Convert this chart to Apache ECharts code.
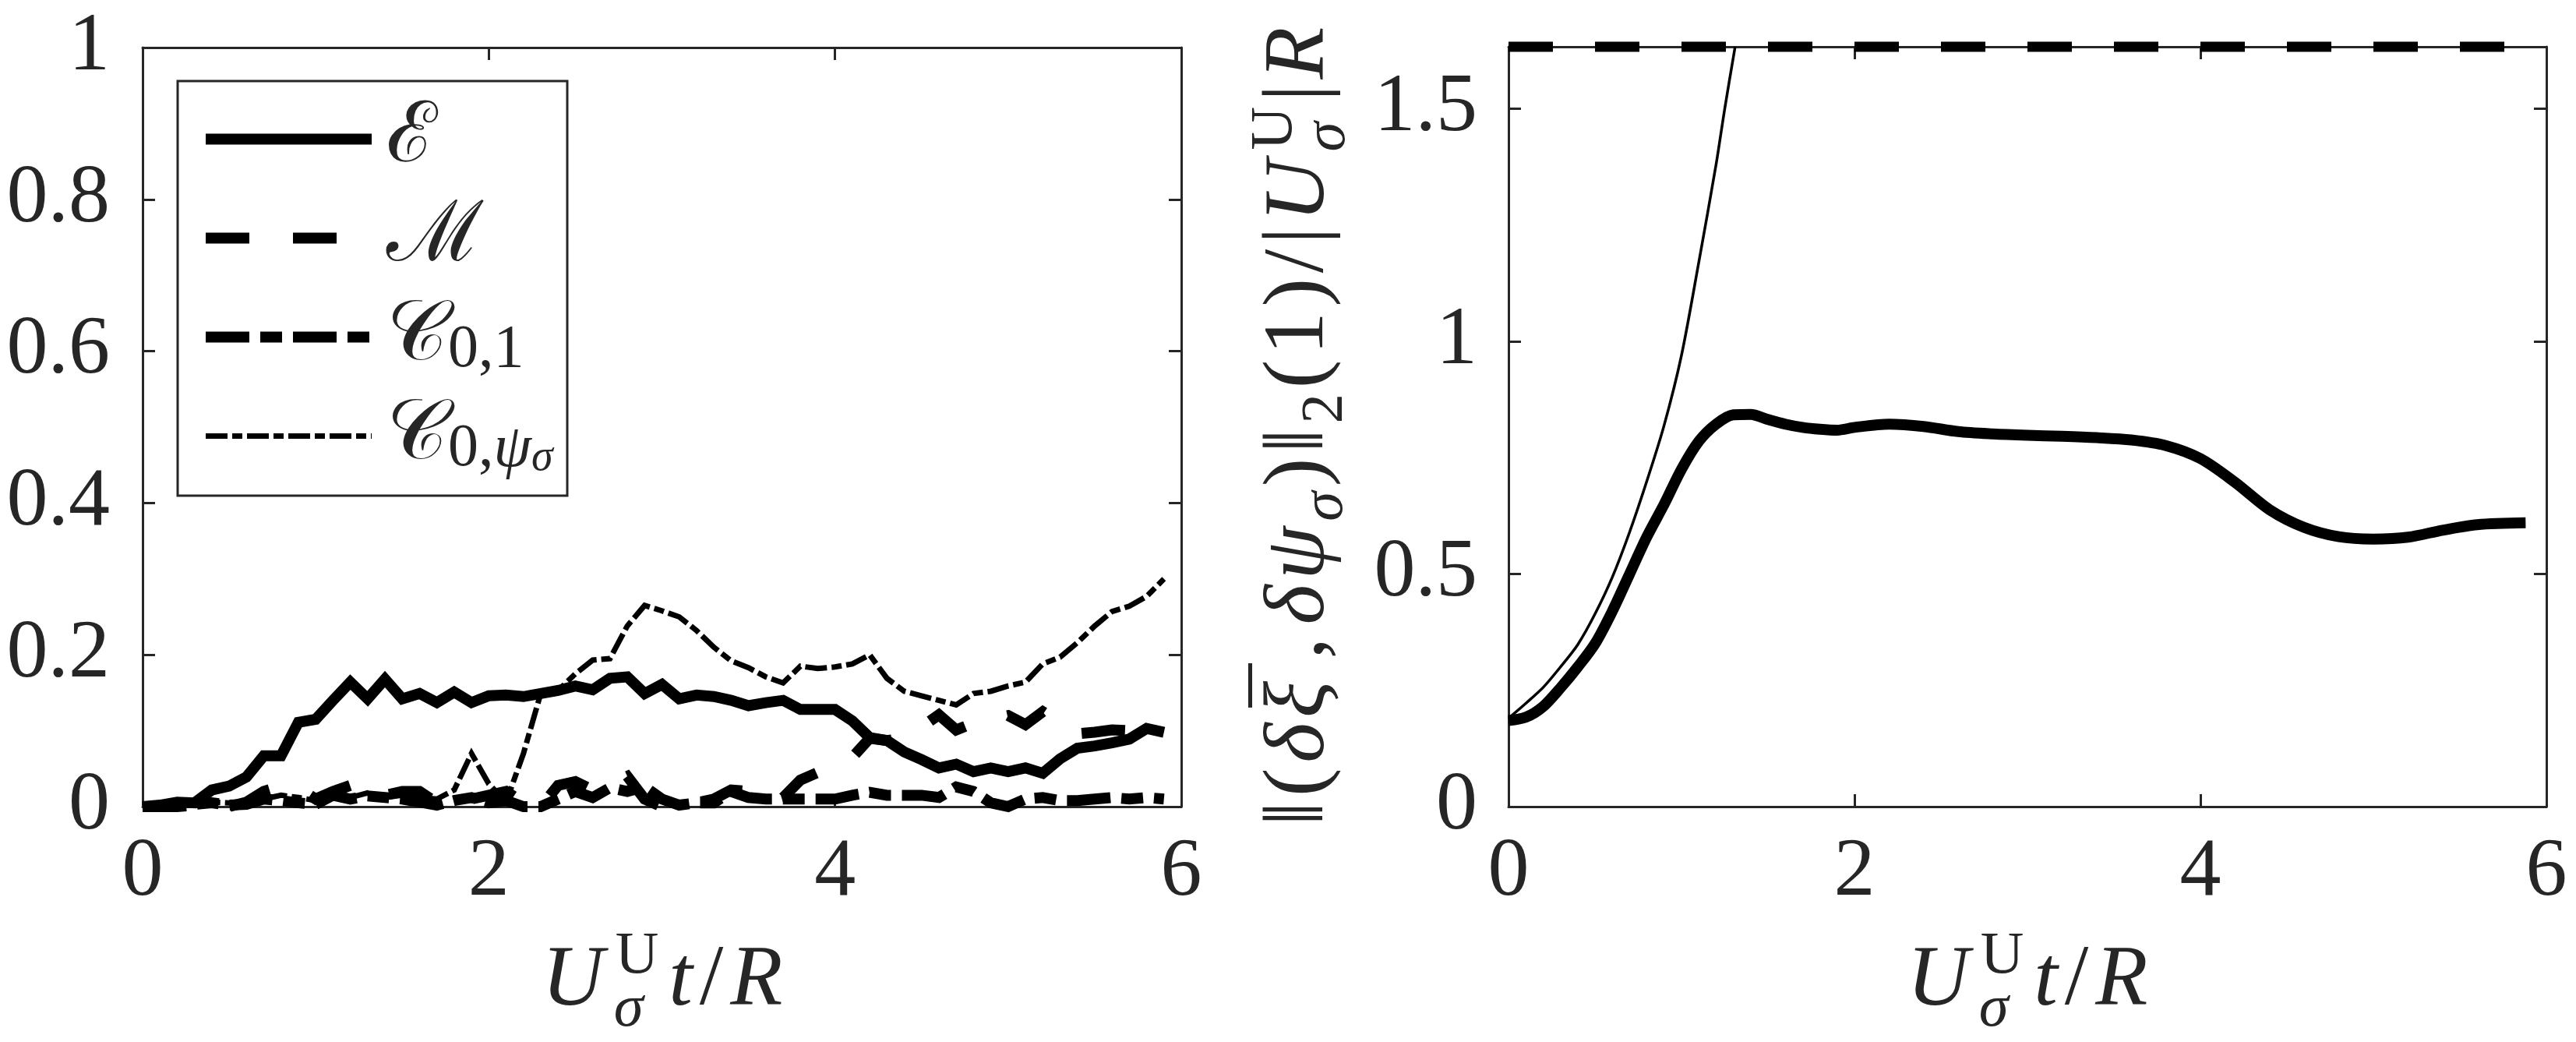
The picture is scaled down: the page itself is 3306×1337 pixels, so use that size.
<!DOCTYPE html>
<html>
<head>
<meta charset="utf-8">
<script src="https://cdn.jsdelivr.net/npm/echarts@6/dist/echarts.min.js"></script>
<style>
html,body{margin:0;padding:0;background:#fff;}
#c{width:3306px;height:1337px;}
</style>
</head>
<body>
<div id="c"></div>
<script>
// ---------------- data ----------------
const T = [0,0.1,0.2,0.3,0.4,0.5,0.6,0.7,0.8,0.9,
           1.0,1.1,1.2,1.3,1.4,1.5,1.6,1.7,1.8,1.9,
           2.0,2.1,2.2,2.3,2.4,2.5,2.6,2.7,2.8,2.9,
           3.0,3.1,3.2,3.3,3.4,3.5,3.6,3.7,3.8,3.9,
           4.0,4.1,4.2,4.3,4.4,4.5,4.6,4.7,4.8,4.9,
           5.0,5.1,5.2,5.3,5.4,5.5,5.6,5.7,5.8,5.9];
const E_VAL = [0,0.002,0.006,0.005,0.022,0.027,0.039,0.067,0.067,0.111,
               0.115,0.140,0.164,0.142,0.168,0.142,0.149,0.137,0.151,0.137,
               0.146,0.147,0.145,0.149,0.153,0.159,0.154,0.169,0.171,0.149,
               0.161,0.142,0.147,0.145,0.140,0.133,0.137,0.140,0.128,0.128,
               0.128,0.113,0.091,0.087,0.072,0.062,0.051,0.056,0.046,0.051,
               0.046,0.051,0.044,0.063,0.077,0.080,0.084,0.089,0.103,0.098];
const M_VAL = [0,0,0,0.002,0.003,0,0.006,0.020,0.027,0.025,
               0.010,0.020,0.028,0.032,0.015,0.020,0.020,0.005,0.008,0.010,
               0.015,0.020,0.005,0,0.028,0.033,0.022,0.030,0.040,0.010,
               0,0,0.005,0.010,0.022,0.020,0.005,0.012,0.035,0.045,
               0.052,0.065,0.090,0.087,0.090,0.105,0.121,0.101,0.110,0.115,
               0.120,0.108,0.125,0.110,0.096,0.098,0.101,0.100,0.100,0.100];
const C01_VAL = [0,0,0.002,0.003,0.005,0.002,0.003,0.010,0.008,0.005,
                 0.003,0.015,0.010,0.014,0.012,0.010,0.006,0.002,0.008,0.012,
                 0.005,0.008,0,0,0.010,0.020,0.012,0.025,0.020,0.026,
                 0.010,0.002,0.005,0.005,0.020,0.012,0.010,0.010,0.010,0.010,
                 0.010,0.015,0.019,0.015,0.015,0.015,0.012,0.026,0.020,0.005,
                 0,0.010,0.012,0.008,0.008,0.010,0.012,0.010,0.012,0.010];
const C0PSI_VAL = [0,0.002,0.004,0.004,0.006,0.005,0.004,0.010,0.015,0.012,
                   0.008,0.015,0.012,0.018,0.012,0.015,0.012,0.010,0.022,0.070,
                   0.030,0.006,0.070,0.149,0.153,0.175,0.193,0.195,0.238,0.265,
                   0.258,0.250,0.232,0.210,0.192,0.183,0.171,0.163,0.185,0.182,
                   0.184,0.188,0.200,0.169,0.152,0.146,0.140,0.134,0.149,0.152,
                   0.159,0.164,0.188,0.197,0.216,0.238,0.257,0.264,0.277,0.300];

const R_T_THICK = [0,0.1,0.2,0.3,0.4,0.5,0.6,0.7,0.8,0.9,1.0,1.1,1.2,1.3,1.4,1.5,1.6,1.7,1.8,1.9,2.0,
                   2.2,2.4,2.6,2.8,3.0,3.2,3.4,3.6,3.8,4.0,4.2,4.4,4.6,4.8,5.0,5.2,5.4,5.6,5.88];
const R_THICK = [0.185,0.192,0.215,0.255,0.30,0.35,0.42,0.50,0.58,0.65,0.725,0.785,0.822,0.842,0.843,0.832,0.822,0.815,0.811,0.809,0.815,
                 0.822,0.817,0.806,0.801,0.798,0.796,0.793,0.788,0.776,0.748,0.697,0.638,0.600,0.580,0.575,0.579,0.594,0.606,0.610];
const R_T_THIN = [0,0.1,0.2,0.3,0.4,0.5,0.6,0.7,0.8,0.9,1.0,1.1,1.2,1.25,1.31];
const R_THIN = [0.19,0.222,0.256,0.30,0.348,0.414,0.493,0.59,0.70,0.82,0.97,1.17,1.38,1.50,1.633];
const R_T_TOP = [0,6];
const R_TOP = [1.633,1.633];

const X_TICKS = [0,2,4,6];
const Y_TICKS_L = [0,0.2,0.4,0.6,0.8,1];
const Y_TICKS_R = [0,0.5,1,1.5];
const Y_MAX_R = 1.633;

const NAMES = ['ℰ','ℳ','𝒞0,1','𝒞0,ψσ'];

// ---------------- helpers ----------------
const FAM = 'Liberation Serif';
const AXC = '#262626';
const zip = (a,b) => a.map((v,i)=>[v,b[i]]);

const ctx = document.createElement('canvas').getContext('2d');
function fontOf(p){ return (p.it?'italic ':'') + p.sz + 'px "' + FAM + '"'; }
function widthOf(p){ ctx.font = fontOf(p); return ctx.measureText(p.t).width; }
// pieces laid out on a common baseline (y=0), centred on x=0, spread to a target width
function mathPieces(pieces, target){
  const items = []; let x = 0; const adv = [];
  pieces.forEach((p,i)=>{
    const start = x;
    if(p.stack){
      let mw = 0;
      p.stack.forEach(q=>{ items.push({q, x: x + (q.kern||0), i}); mw = Math.max(mw, widthOf(q) + (q.kern||0)); });
      x += mw;
    } else {
      x += (p.pre||0);
      items.push({q:p, x, i}); x += widthOf(p) + (p.kern||0);
    }
  });
  const n = pieces.length;
  const extra = target ? Math.max(0, (target - x) / (n - 1)) : 0;
  const total = x + extra * (n - 1);
  const off = -total/2;
  return items.map(({q,x,i})=>({
    type:'text', x: x + extra*i + off, y: (q.dy||0) - 0.34*q.sz,
    style:{ text:q.t, fontSize:q.sz, fontFamily:FAM, fontStyle: q.it?'italic':'normal',
            fill: AXC, align:'left', verticalAlign:'middle' }
  }));
}
const S = 110, s = 77;
const xTitle = [
  {t:'U', it:true, sz:S, kern:4},
  {stack:[{t:'U', sz:s, dy:-43, kern:2},{t:'σ', it:true, sz:s, dy:25}]},
  {t:'t', it:true, sz:S, pre:4},
  {t:'/', sz:S},
  {t:'R', it:true, sz:S}
];
const yTitle = [
  {t:'‖', sz:S},{t:'(', sz:S},{t:'δ', it:true, sz:S},
  {stack:[{t:'ξ', it:true, sz:S},{t:'¯', sz:S, kern:14, dy:-12}]},
  {t:',', sz:S, kern:10},
  {t:'δ', it:true, sz:S},{t:'ψ', it:true, sz:S},{t:'σ', it:true, sz:s, dy:22},
  {t:')', sz:S},{t:'‖', sz:S},{t:'2', sz:s, dy:22},
  {t:'(', sz:S},{t:'1', sz:S},{t:')', sz:S},{t:'/', sz:S},{t:'|', sz:S},
  {t:'U', it:true, sz:S, kern:4},
  {stack:[{t:'U', sz:s, dy:-43, kern:2},{t:'σ', it:true, sz:s, dy:25}]},
  {t:'|', sz:S},{t:'R', it:true, sz:S}
];

function axisCommon(extra){
  return Object.assign({
    type:'value',
    axisLine:{show:true, onZero:false, lineStyle:{color:AXC, width:3}},
    axisTick:{show:true, inside:true, length:16, lineStyle:{color:AXC, width:3}},
    splitLine:{show:false},
    axisLabel:{show:false}
  }, extra);
}
const labelStyle = (m)=>({show:true, margin:m, fontSize:106, fontFamily:FAM, color:AXC});

const xL = {min:X_TICKS[0], max:X_TICKS[X_TICKS.length-1], interval:X_TICKS[1]-X_TICKS[0]};
const yL = {min:Y_TICKS_L[0], max:Y_TICKS_L[Y_TICKS_L.length-1], interval:Y_TICKS_L[1]-Y_TICKS_L[0]};
const yR = {min:Y_TICKS_R[0], max:Y_MAX_R, interval:Y_TICKS_R[1]-Y_TICKS_R[0]};

const lineSt = (dash, w)=>({color:'#000', width:w, type:dash, join:'miter', miterLimit:3, cap:'butt'});

const option = {
  animation:false,
  backgroundColor:'#fff',
  grid:[
    {left:183, top:61, width:1333, height:974},
    {left:1936, top:60, width:1332, height:975}
  ],
  xAxis:[
    axisCommon(Object.assign({gridIndex:0, position:'bottom', axisLabel:labelStyle(32)}, xL)),
    axisCommon(Object.assign({gridIndex:0, position:'top'}, xL)),
    axisCommon(Object.assign({gridIndex:1, position:'bottom', axisLabel:labelStyle(32)}, xL)),
    axisCommon(Object.assign({gridIndex:1, position:'top'}, xL))
  ],
  yAxis:[
    axisCommon(Object.assign({gridIndex:0, position:'left', axisLabel:labelStyle(42)}, yL)),
    axisCommon(Object.assign({gridIndex:0, position:'right'}, yL)),
    axisCommon(Object.assign({gridIndex:1, position:'left', axisLabel:Object.assign(labelStyle(40),{showMaxLabel:false})}, yR)),
    axisCommon(Object.assign({gridIndex:1, position:'right'}, yR))
  ],
  legend:{
    data:NAMES, orient:'vertical', left:257, top:122, padding:0,
    itemWidth:213, itemHeight:14, itemGap:14, selectedMode:false,
    itemStyle:{color:'rgba(0,0,0,0)', borderWidth:0, opacity:0},
    lineStyle:{width:'inherit'},
    formatter:function(n){
      if(n==='ℰ') return '{a|ℰ}';
      if(n==='ℳ') return '{a|ℳ}';
      if(n==='𝒞0,1') return '{a|𝒞}{s|0,1}';
      return '{a|𝒞}{s|0,}{si|ψ}{ss|σ}';
    },
    textStyle:{
      color:AXC, fontSize:105, lineHeight:113, fontFamily:FAM,
      rich:{
        a:{fontSize:108, fontFamily:FAM, lineHeight:113, padding:[0,0,0,14], color:AXC},
        s:{fontSize:78, fontFamily:FAM, lineHeight:50, verticalAlign:'bottom', color:AXC},
        si:{fontSize:78, fontFamily:FAM, fontStyle:'italic', lineHeight:50, verticalAlign:'bottom', color:AXC},
        ss:{fontSize:56, fontFamily:FAM, fontStyle:'italic', lineHeight:20, verticalAlign:'bottom', color:AXC}
      }
    }
  },
  graphic:[
    {type:'rect', z:0, shape:{x:228, y:104, width:500, height:532}, style:{fill:'#fff', stroke:AXC, lineWidth:3}},
    {type:'group', x:850, y:1297, children:mathPieces(xTitle, 309)},
    {type:'group', x:2602, y:1297, children:mathPieces(xTitle, 309)},
    {type:'group', x:1706, y:547, rotation:Math.PI/2, children:mathPieces(yTitle, 1025)}
  ],
  series:[
    {name:NAMES[0], type:'line', xAxisIndex:0, yAxisIndex:0, data:zip(T,E_VAL), symbol:'none', clip:false,
     lineStyle:lineSt('solid',14), z:5},
    {name:NAMES[1], type:'line', xAxisIndex:0, yAxisIndex:0, data:zip(T,M_VAL), symbol:'none', clip:false,
     lineStyle:lineSt([56,56],14), z:4},
    {name:NAMES[2], type:'line', xAxisIndex:0, yAxisIndex:0, data:zip(T,C01_VAL), symbol:'none', clip:false,
     lineStyle:lineSt([56,14,28,14],14), z:4},
    {name:NAMES[3], type:'line', xAxisIndex:0, yAxisIndex:0, data:zip(T,C0PSI_VAL), symbol:'none', clip:false,
     lineStyle:lineSt([28,6,13,6],7), z:6},
    {name:'norm', type:'line', xAxisIndex:2, yAxisIndex:2, data:zip(R_T_THICK,R_THICK), symbol:'none', clip:false,
     smooth:0.3, lineStyle:lineSt('solid',14)},
    {name:'linear', type:'line', xAxisIndex:2, yAxisIndex:2, data:zip(R_T_THIN,R_THIN), symbol:'none', clip:false,
     smooth:0.3, lineStyle:lineSt('solid',3.5)},
    {name:'bound', type:'line', xAxisIndex:2, yAxisIndex:2, data:zip(R_T_TOP,R_TOP), symbol:'none', clip:false,
     lineStyle:lineSt([57,54],13)}
  ]
};
const chart = echarts.init(document.getElementById('c'), null, {renderer:'canvas'});
chart.setOption(option);
</script>
</body>
</html>
